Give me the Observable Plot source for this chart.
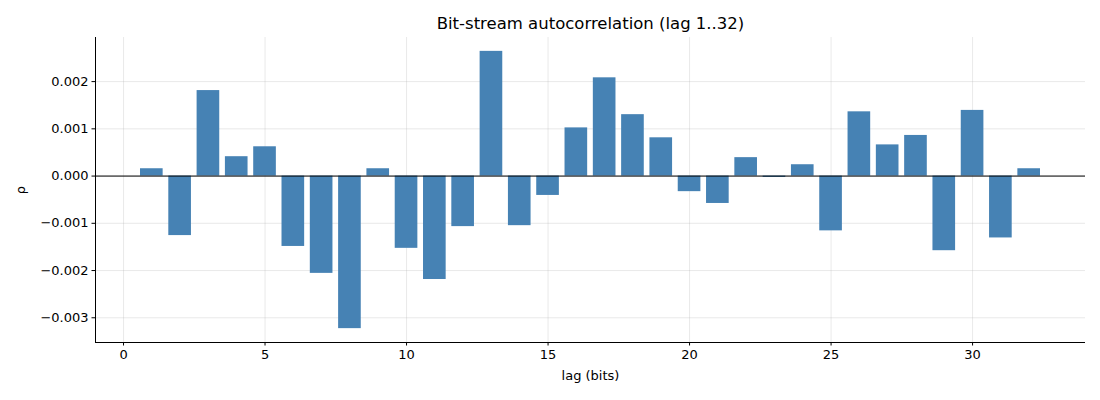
<!DOCTYPE html>
<html>
<head>
<meta charset="utf-8">
<script src="https://cdn.jsdelivr.net/npm/d3@7"></script>
<script src="https://cdn.jsdelivr.net/npm/@observablehq/plot@0.6"></script>
<style>
  html, body { margin: 0; padding: 0; background: #fff; }
  #chart { width: 1100px; height: 400px; }
</style>
</head>
<body>
<div id="chart"></div>
<script>
const lags = d3.range(1, 33);
const rho = [
  0.000155, -0.00126, 0.00181, 0.00041, 0.00062, -0.00149, -0.00206, -0.00323,
  0.000155, -0.00153, -0.00219, -0.00107, 0.00264, -0.00105, -0.00041, 0.00102,
  0.00208, 0.00130, 0.00081, -0.00033, -0.00058, 0.00039, -0.00003, 0.00024,
  -0.00116, 0.00136, 0.00066, 0.00086, -0.00158, 0.00139, -0.00131, 0.000155
];
const xTicks = [0, 5, 10, 15, 20, 25, 30];
const yTicks = [-0.003, -0.002, -0.001, 0, 0.001, 0.002];
const titleText = "Bit-stream autocorrelation (lag 1..32)";
const xLabel = "lag (bits)";
const yLabel = "ρ";

const data = lags.map((l, i) => ({lag: l, rho: rho[i]}));
const barW = 0.8;

// matplotlib-like 5% margins
const xMin = d3.min(lags) - barW / 2, xMax = d3.max(lags) + barW / 2;
const xPad = (xMax - xMin) * 0.05;
const yMin = Math.min(0, d3.min(rho)), yMax = Math.max(0, d3.max(rho));
const yPad = (yMax - yMin) * 0.05;
const xDomain = [xMin - xPad, xMax + xPad];
const yDomain = [yMin - yPad, yMax + yPad];

const font = "DejaVu Sans, sans-serif";
const gridStyle = {stroke: "#b0b0b0", strokeOpacity: 0.35, strokeWidth: 0.8};

const chart = Plot.plot({
  width: 1100,
  height: 400,
  marginTop: 37,
  marginBottom: 58,
  marginLeft: 95,
  marginRight: 15,
  style: {fontFamily: font, fontSize: "13px", color: "#000", background: "#fff"},
  x: {domain: xDomain, ticks: xTicks},
  y: {domain: yDomain, ticks: yTicks},
  marks: [
    Plot.gridX(xTicks, gridStyle),
    Plot.gridY(yTicks, gridStyle),
    Plot.rectY(data, {x1: d => d.lag - barW / 2, x2: d => d.lag + barW / 2, y1: 0, y2: "rho", fill: "#4682b4", insetLeft: 0, insetRight: 0}),
    Plot.ruleY([0], {stroke: "#000", strokeWidth: 1}),
    Plot.axisX(xTicks, {tickSize: 3.5, tickPadding: 3.5, fontSize: 13, label: xLabel, labelAnchor: "center", labelArrow: "none", labelOffset: 37, tickFormat: d => String(d)}),
    Plot.axisY(yTicks, {tickSize: 3.5, tickPadding: 3.5, fontSize: 13, label: yLabel, labelAnchor: "center", labelArrow: "none", labelOffset: 80, tickFormat: d3.format(".3f")}),
    Plot.ruleX([xDomain[0]], {stroke: "#000", strokeWidth: 1}),
    Plot.ruleY([yDomain[0]], {stroke: "#000", strokeWidth: 1}),
    Plot.text([titleText], {frameAnchor: "top", dy: -20, fontSize: 16.5, text: d => d, fill: "#000"})
  ]
});
document.getElementById("chart").appendChild(chart);
</script>
</body>
</html>
